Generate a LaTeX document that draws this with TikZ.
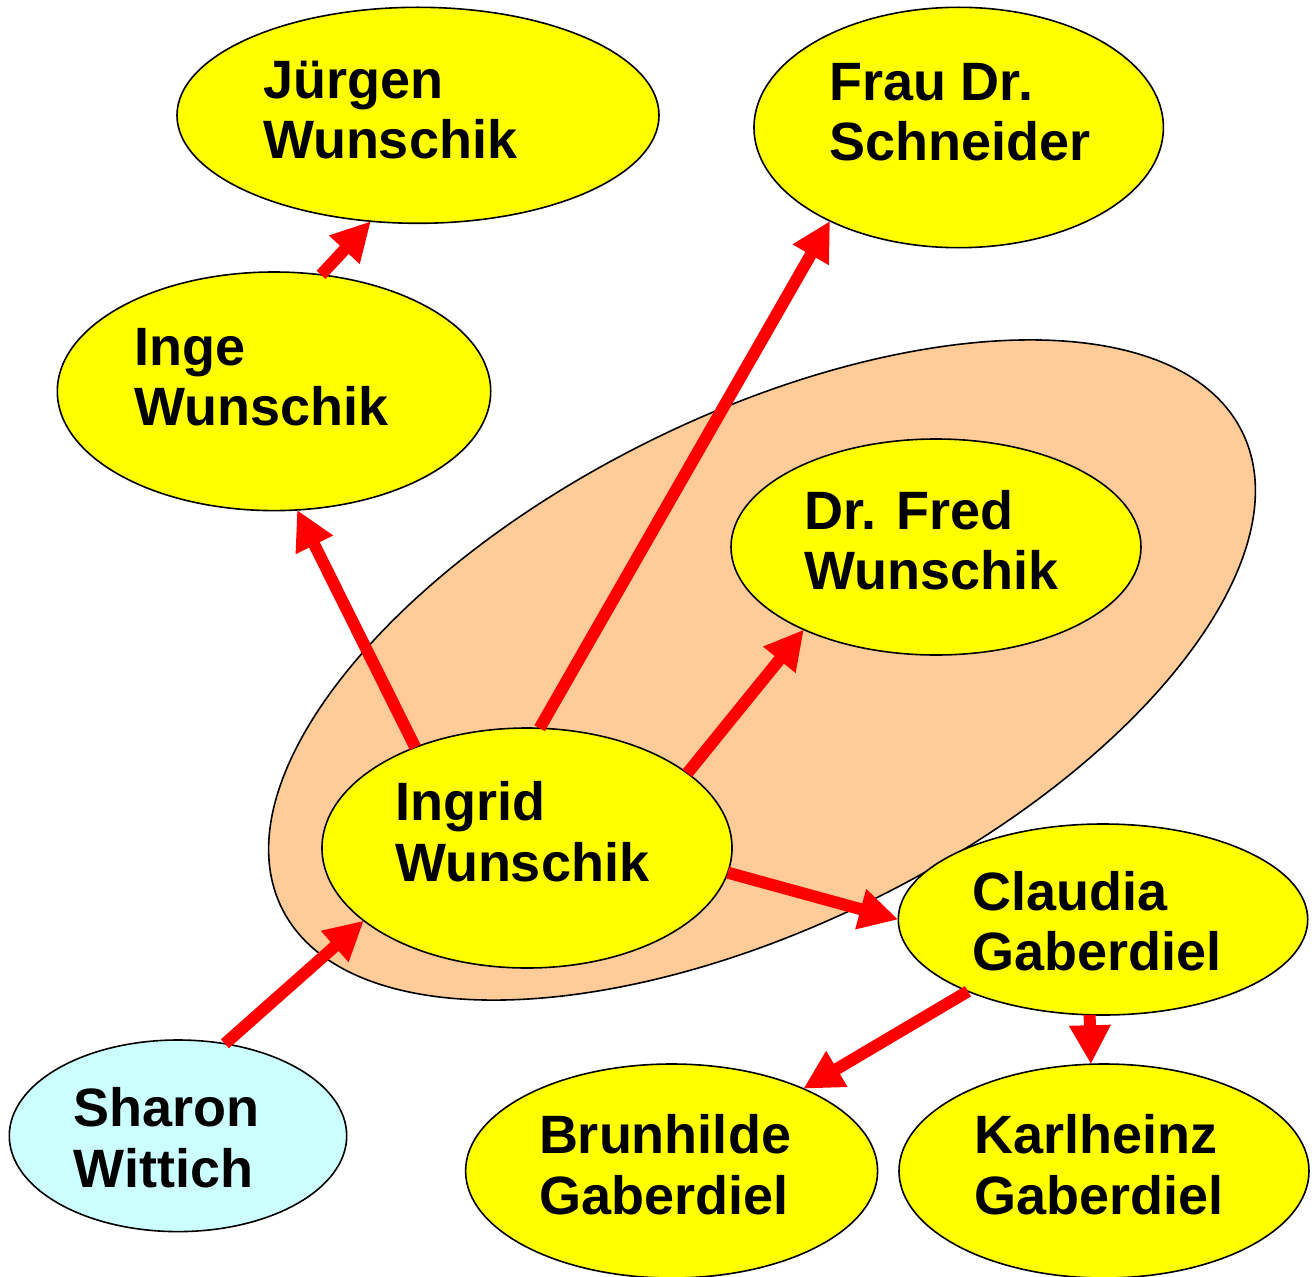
\documentclass[tikz,border=0pt]{standalone}
\usepackage{fontspec}
\setmainfont{Liberation Sans}
\usetikzlibrary{arrows.meta,shapes.geometric}
\definecolor{peach}{HTML}{FFCC99}
\definecolor{nodeyellow}{HTML}{FFFF00}
\definecolor{paleblue}{HTML}{CCFFFF}
\begin{document}
\begin{tikzpicture}[x=1pt,y=-1pt,
  person/.style={ellipse, draw=black, line width=1.6pt, fill=nodeyellow, inner sep=0pt, outer sep=0pt},
  group/.style={ellipse, draw=black, line width=1.6pt, fill=peach, inner sep=0pt, outer sep=0pt},
  lbl/.style={anchor=base west, align=left, inner sep=0pt, outer sep=0pt, font=\fontsize{54}{60.5}\selectfont\bfseries},
  kin/.style={draw=red, line width=12pt, -{Triangle[length=39pt,width=39pt]}}]
\useasboundingbox (0,0) rectangle (1316,1276);

% family group
\node[group, rotate=26.4, minimum width=1072pt, minimum height=510pt] (fam) at (762,670) {};

% persons
\node[person, minimum width=482pt, minimum height=216pt] (juergen) at (418,115.3) {};
\node[person, minimum width=409.4pt, minimum height=240.4pt] (frau) at (958.7,127.5) {};
\node[person, minimum width=433.4pt, minimum height=238.6pt] (inge) at (274,391.3) {};
\node[person, minimum width=410pt, minimum height=216pt] (fred) at (936,547) {};
\node[person, minimum width=410pt, minimum height=240pt] (ingrid) at (527,848) {};
\node[person, minimum width=409.4pt, minimum height=191pt] (claudia) at (1103,919.5) {};
\node[person, fill=paleblue, minimum width=337.4pt, minimum height=191.6pt] (sharon) at (178,1135.8) {};
\node[person, minimum width=412pt, minimum height=214pt] (brunhilde) at (671.6,1171) {};
\node[person, minimum width=410pt, minimum height=214pt] (karlheinz) at (1104,1171) {};

% labels (anchor = baseline of the last line)
\node[lbl] (tjuergen) at (263,158.6) {Jürgen\\Wunschik};
\node[lbl] (tfrau) at (829,160.8) {Frau Dr.\\Schneider};
\node[lbl] (tinge) at (134.5,425.6) {Inge\\Wunschik};
\node[lbl] (tfred) at (804,589.6) {Dr. Fred\\Wunschik};
\node[lbl] (tingrid) at (395,881.4) {Ingrid\\Wunschik};
\node[lbl] (tclaudia) at (972,970.8) {Claudia\\Gaberdiel};
\node[lbl] (tsharon) at (73.5,1187.3) {Sharon\\Wittich};
\node[lbl] (tbrunhilde) at (539,1214) {Brunhilde\\Gaberdiel};
\node[lbl] (tkarlheinz) at (974,1214) {Karlheinz\\Gaberdiel};

% connectors
\draw[kin] (inge.68) -- (juergen.246.2);
\draw[kin] (ingrid.138) -- (inge.281.6);
\draw[kin] (ingrid.84.8) -- (frau.216.3);
\draw[kin] (ingrid.25) -- (fred.212.9);
\draw[kin] (ingrid.353) -- (claudia.180);
\draw[kin] (sharon.63.4) -- (ingrid.204.6);
\draw[kin] (claudia.208.8) -- (brunhilde.32.4);
\draw[kin] (claudia.262.8) -- (karlheinz.97);
\end{tikzpicture}
\end{document}
